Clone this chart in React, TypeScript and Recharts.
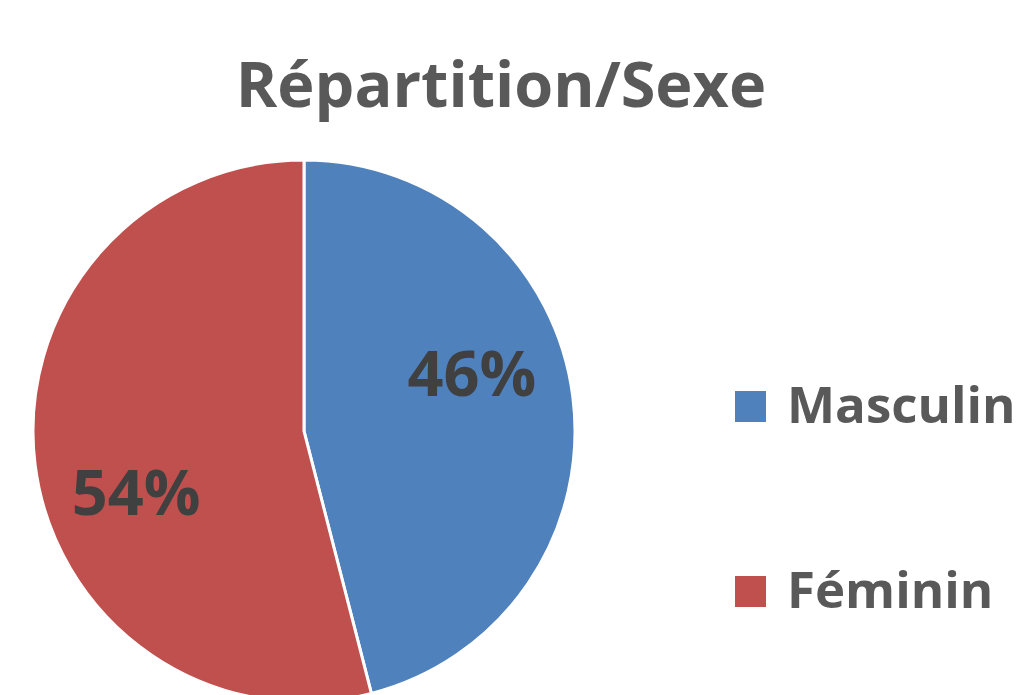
import { PieChart, Pie, Cell, Legend } from 'recharts';

const categories = ['Masculin', 'Féminin'];
const values = [46, 54];
const colors = ['#4F81BD', '#C0504D'];

const data = categories.map((name, i) => ({ name, value: values[i] }));

const FONT = '"Open Sans", sans-serif';
const RAD = Math.PI / 180;

// Excel's "best fit" label spot: a bit inside the slice, rotated a little off the mid angle
const renderLabel = (props: any) => {
  const { cx, cy, midAngle, outerRadius, percent } = props;
  const r = outerRadius * 0.657;
  const a = (midAngle + 12.2) * RAD;
  const x = cx + r * Math.cos(a);
  const y = cy - r * Math.sin(a);
  return (
    <text
      x={x}
      y={y}
      fill="#404040"
      textAnchor="middle"
      dominantBaseline="central"
      fontFamily={FONT}
      fontWeight={700}
      fontSize={63}
    >
      {`${Math.round(percent * 100)}%`}
    </text>
  );
};

// legend built from the data arrays so the order stays Masculin, Féminin
const renderLegend = () => (
  <div style={{ position: 'relative', width: 294, height: 240 }}>
    {categories.map((name, i) => (
      <div
        key={name}
        style={{
          position: 'absolute',
          left: 0,
          top: i * 185,
          display: 'flex',
          alignItems: 'center',
          height: 31,
        }}
      >
        <div style={{ width: 31, height: 31, background: colors[i] }} />
        <span
          style={{
            marginLeft: 21,
            fontFamily: FONT,
            fontWeight: 700,
            fontSize: 51,
            color: '#595959',
            lineHeight: '31px',
            whiteSpace: 'nowrap',
            position: 'relative',
            top: -3,
          }}
        >
          {name}
        </span>
      </div>
    ))}
  </div>
);

export default function App() {
  return (
    <div style={{ position: 'absolute', left: 0, top: 0, width: 1029, height: 695, background: '#fff', overflow: 'hidden' }}>
      <PieChart width={1029} height={695} margin={{ top: 0, right: 0, bottom: 0, left: 0 }}>
        <text
          x={501}
          y={107}
          textAnchor="middle"
          fill="#595959"
          fontFamily={FONT}
          fontWeight={700}
          fontSize={63}
        >
          Répartition/Sexe
        </text>
        <Pie
          data={data}
          dataKey="value"
          nameKey="name"
          cx={304}
          cy={431}
          outerRadius={271}
          startAngle={90}
          endAngle={-270}
          stroke="#ffffff"
          strokeWidth={3}
          label={renderLabel}
          labelLine={false}
          isAnimationActive={false}
        >
          {data.map((d, i) => (
            <Cell key={d.name} fill={colors[i]} />
          ))}
        </Pie>
        <Legend
          content={renderLegend}
          wrapperStyle={{ position: 'absolute', left: 735, top: 391, width: 294, height: 240 }}
        />
      </PieChart>
    </div>
  );
}
